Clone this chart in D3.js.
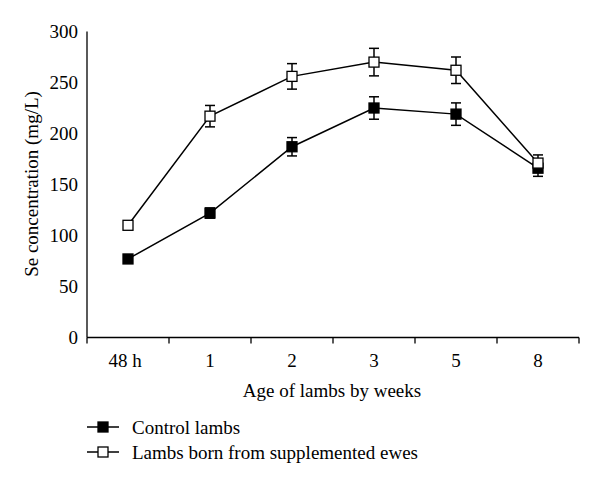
<!DOCTYPE html>
<html><head><meta charset="utf-8">
<script src="https://cdn.jsdelivr.net/npm/d3@7"></script>
<style>body{margin:0;background:#fff}svg{display:block}text{font-family:"Liberation Serif","DejaVu Serif",serif;fill:#000}</style>
</head><body><svg id="c" width="600" height="486"></svg>
<script>
const categories = ["48 h","1","2","3","5","8"];
const controlMeans = [77, 122, 187, 225, 219, 166];
const controlErr   = [3, 5, 9, 11, 11, 8];
const suppMeans    = [110, 217, 256, 270, 262, 171];
const suppErr      = [3, 10.5, 12.5, 13.5, 13, 8];
const yTicks = [0,50,100,150,200,250,300];
const seriesNames = ["Control lambs","Lambs born from supplemented ewes"];

const FS = 19;
const svg = d3.select("#c");
const mLeft = 87, mRight = 579, mTop = 31.5, mBottom = 337.5;
const x = d3.scaleBand().domain(categories).range([mLeft, mRight]);
const y = d3.scaleLinear().domain([0,300]).range([mBottom, mTop]);

// y axis
svg.append("line").attr("x1",mLeft).attr("x2",mLeft).attr("y1",y(300)).attr("y2",mBottom).attr("stroke","#000").attr("stroke-width",1.3);
svg.selectAll(".yt").data(yTicks).enter().append("text")
  .attr("x",mLeft-9).attr("y",d=>y(d)).attr("dy","0.35em").attr("text-anchor","end")
  .attr("font-size",FS).text(d=>d);

// x axis
svg.append("line").attr("x1",mLeft).attr("x2",mRight).attr("y1",mBottom).attr("y2",mBottom).attr("stroke","#000").attr("stroke-width",1.3);
const bounds = categories.map(c=>x(c)).concat([mRight]);
svg.selectAll(".xt").data(bounds).enter().append("line")
  .attr("x1",d=>d).attr("x2",d=>d).attr("y1",mBottom).attr("y2",mBottom+6).attr("stroke","#000").attr("stroke-width",1.3);
svg.selectAll(".xl").data(categories).enter().append("text")
  .attr("x",d=>x(d)+x.bandwidth()/2 - (d==="48 h"?3:0)).attr("y",mBottom+23).attr("dy","0.35em").attr("text-anchor","middle")
  .attr("font-size",FS).text(d=>d);

svg.append("text").attr("x",332).attr("y",390).attr("dy","0.35em").attr("text-anchor","middle").attr("font-size",FS).text("Age of lambs by weeks");
svg.append("text").attr("transform","translate(31,184) rotate(-90)").attr("dy","0.35em").attr("text-anchor","middle").attr("font-size",FS).text("Se concentration (mg/L)");

const cx = d => x(d)+x.bandwidth()/2;
const line = d3.line().x(d=>cx(d.c)).y(d=>y(d.v));

function drawSeries(means, errs){
  const data = categories.map((c,i)=>({c, v:means[i], e:errs[i]}));
  svg.append("path").datum(data).attr("d",line).attr("fill","none").attr("stroke","#000").attr("stroke-width",1.5);
  const g = svg.append("g");
  data.forEach(d=>{
    const X = cx(d.c);
    g.append("line").attr("x1",X).attr("x2",X).attr("y1",y(d.v+d.e)).attr("y2",y(d.v-d.e)).attr("stroke","#000").attr("stroke-width",1.5);
    [d.v+d.e, d.v-d.e].forEach(v=>g.append("line").attr("x1",X-5).attr("x2",X+5).attr("y1",y(v)).attr("y2",y(v)).attr("stroke","#000").attr("stroke-width",1.5));
  });
  return data;
}
const d1 = drawSeries(controlMeans, controlErr);
const d2 = drawSeries(suppMeans, suppErr);
function markers(data, fill){
  svg.selectAll(null).data(data).enter().append("rect")
    .attr("x",d=>cx(d.c)-5).attr("y",d=>y(d.v)-5).attr("width",10).attr("height",10)
    .attr("fill",fill).attr("stroke","#000").attr("stroke-width",1.3);
}
markers(d1,"#000");
markers(d2,"#fff");

// legend
const legY = [427, 452];
const fills = ["#000","#fff"];
seriesNames.forEach((n,i)=>{
  svg.append("line").attr("x1",87).attr("x2",119).attr("y1",legY[i]).attr("y2",legY[i]).attr("stroke","#000").attr("stroke-width",1.5);
  svg.append("rect").attr("x",98).attr("y",legY[i]-5).attr("width",10).attr("height",10).attr("fill",fills[i]).attr("stroke","#000").attr("stroke-width",1.3);
  svg.append("text").attr("x",132).attr("y",legY[i]).attr("dy","0.35em").attr("font-size",FS).text(n);
});
</script></body></html>
